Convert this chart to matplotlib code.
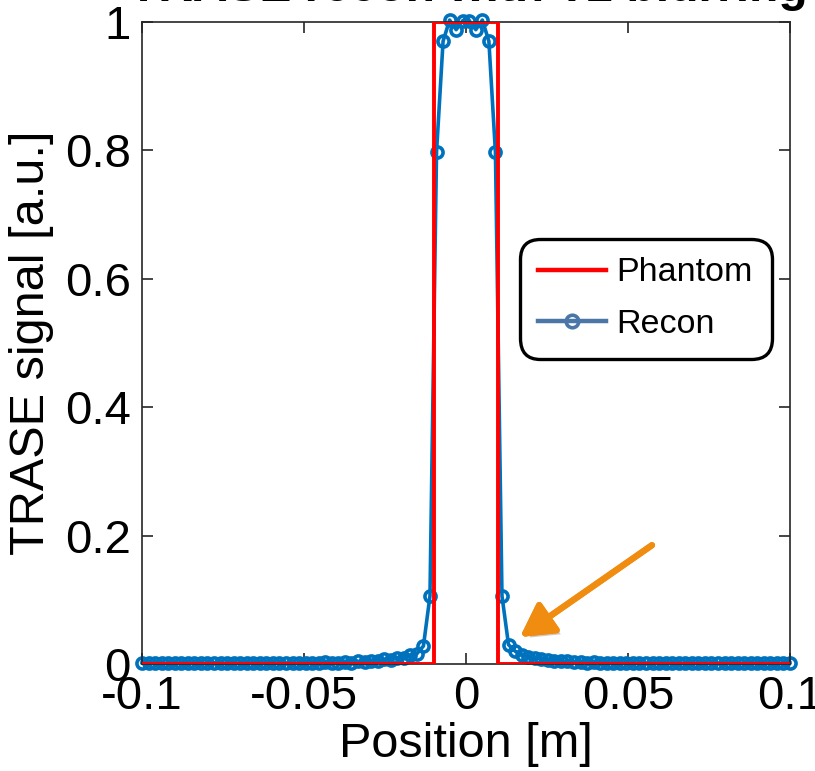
import numpy as np
import matplotlib
matplotlib.use('Agg')
import matplotlib.pyplot as plt
import matplotlib.patheffects as pe

plt.rcParams['font.family'] = ['Liberation Sans', 'DejaVu Sans']

# phantom profile (rect, -1 cm .. 1 cm)
phantom_x = [-0.1, -0.01, -0.01, 0.01, 0.01, 0.1]
phantom_y = [0, 0, 1, 1, 0, 0]

# reconstruction, 100 samples over the FOV
recon_x = np.linspace(-0.1, 0.1, 100)
recon_y = [
    0.002, 0.001, 0.002, 0.001, 0.001, 0.002, 0.001, 0.001, 0.002, 0.001,
    0.001, 0.002, 0.001, 0.001, 0.002, 0.001, 0.001, 0.002, 0.001, 0.002,
    0.001, 0.002, 0.001, 0.002, 0.001, 0.002, 0.002, 0.001, 0.003, 0.001,
    0.002, 0.003, 0.002, 0.004, 0.003, 0.005, 0.004, 0.007, 0.006, 0.010,
    0.009, 0.014, 0.016, 0.028, 0.106, 0.797, 0.970, 1.003, 0.988, 1.002,
    1.002, 0.988, 1.003, 0.970, 0.797, 0.106, 0.030, 0.020, 0.014, 0.011,
    0.009, 0.008, 0.006, 0.005, 0.004, 0.004, 0.003, 0.003, 0.002, 0.003,
    0.002, 0.001, 0.002, 0.001, 0.002, 0.001, 0.002, 0.001, 0.001, 0.002,
    0.001, 0.002, 0.001, 0.001, 0.002, 0.001, 0.001, 0.002, 0.001, 0.001,
    0.002, 0.001, 0.001, 0.002, 0.001, 0.001, 0.002, 0.001, 0.001, 0.002,
]

xticks = [-0.1, -0.05, 0, 0.05, 0.1]
xticklabels = ['-0.1', '-0.05', '0', '0.05', '0.1']
yticks = [0, 0.2, 0.4, 0.6, 0.8, 1]
yticklabels = ['0', '0.2', '0.4', '0.6', '0.8', '1']

# arrow pointing at the tail of the recon
arrow_tail = (0.0574, 0.185)
arrow_tip = (0.0167, 0.042)

fig = plt.figure(figsize=(8.15, 7.71), dpi=100)
ax = fig.add_axes([0.1742, 0.1388, 0.7951, 0.8327])

ph, = ax.plot(phantom_x, phantom_y, color='#ff0000', lw=2.8, zorder=3, label='Phantom')
rc, = ax.plot(recon_x, recon_y, color='#0072bd', lw=2.6, marker='o', ms=8,
              mfc='none', mew=2.6, clip_on=False, zorder=2, label='Recon')

ax.set_xlim(-0.1, 0.1)
ax.set_ylim(0, 1)
ax.set_xticks(xticks)
ax.set_xticklabels(xticklabels)
ax.set_yticks(yticks)
ax.set_yticklabels(yticklabels)
ax.tick_params(direction='in', length=8, width=1.2, labelsize=34, top=True, right=True,
               colors='#262626', labelcolor='black', pad=8)
for s in ax.spines.values():
    s.set_linewidth(1.2)
    s.set_color('#262626')

ax.set_xlabel('Position [m]', fontsize=35, labelpad=2)
ax.set_ylabel('TRASE signal [a.u.]', fontsize=35, labelpad=8)

fig.text(0.575, 0.999, 'TRASE recon with T2 blurring', fontsize=34.5,
         fontweight='bold', ha='center', va='baseline')

leg = ax.legend(handles=[ph, rc], loc='upper left', bbox_to_anchor=(0.588, 0.657),
                fontsize=24.5, numpoints=1, handlelength=2.0, handletextpad=0.3,
                borderpad=0.45, labelspacing=0.6, fancybox=True, framealpha=1,
                edgecolor='black', borderaxespad=0)
leg.get_frame().set_linewidth(2.4)
leg.get_frame().set_boxstyle('round,pad=0.1,rounding_size=0.6')
for ln in leg.get_lines():
    ln.set_linewidth(3.2)
leg.get_lines()[1].set_color('#4a76a8')
leg.get_lines()[1].set_markersize(9)

ax.annotate('', xy=arrow_tip, xytext=arrow_tail,
            arrowprops=dict(arrowstyle='-|>,head_length=0.9,head_width=0.5',
                            color='#f08c10', lw=4.5, mutation_scale=22, shrinkA=0, shrinkB=0,
                            path_effects=[pe.withSimplePatchShadow(offset=(3, -3), alpha=0.25), pe.Normal()]))

fig.savefig('out.png', dpi=100)
